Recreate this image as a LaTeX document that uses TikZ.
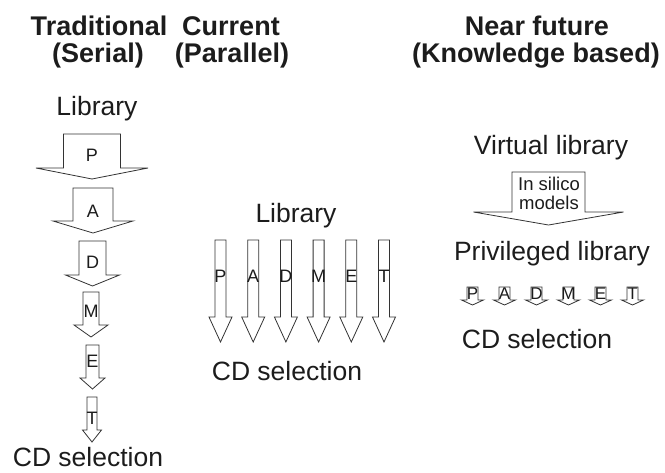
\documentclass[tikz,border=0pt]{standalone}
\usepackage{fontspec}
\setmainfont{Liberation Sans}
\definecolor{padInk}{HTML}{1C1C1C}
\definecolor{padLine}{HTML}{333333}
\tikzset{
  pad title/.style={font=\fontsize{27}{30}\selectfont\bfseries, text=padInk, anchor=base, inner sep=0pt},
  pad label/.style={font=\fontsize{26.5}{30}\selectfont, text=padInk, anchor=base, inner sep=0pt},
  pad note/.style={font=\fontsize{18.5}{20}\selectfont, text=padInk, anchor=base, inner sep=0pt},
  pad letter/.style={font=\fontsize{18}{20}\selectfont, text=padInk, inner sep=0pt},
  pad small letter/.style={font=\fontsize{17}{20}\selectfont, text=padInk, inner sep=0pt},
  pad arrow/.style={draw=padLine, line width=0.8pt, fill=white, line join=miter},
}
% block arrow pointing down: centre x, top, half shaft, wing y, half head, tip y
\newcommand{\padArrow}[6]{%
  \draw[pad arrow] (#1-#3,#2) -- (#1-#3,#4) -- (#1-#5,#4) -- (#1,#6)
    -- (#1+#5,#4) -- (#1+#3,#4) -- (#1+#3,#2) -- cycle;}

\begin{document}
\begin{tikzpicture}[x=1pt,y=-1pt]
  \useasboundingbox (0,0) rectangle (665,472);
  % column titles
  \node[pad title] (tradTop) at (99,35) {Traditional};
  \node[pad title] (tradSub) at (98,62) {(Serial)};
  \node[pad title] (curTop) at (231,35) {Current};
  \node[pad title] (curSub) at (232,62) {(Parallel)};
  \node[pad title] (nearTop) at (537,35) {Near future};
  \node[pad title] (nearSub) at (536,62) {(Knowledge based)};

  % serial: one filter after the other
  \node[pad label] (tradLib) at (97,115) {Library};
  \foreach \nm/\cx/\top/\hs/\wy/\hh/\tip/\ly in {P/92/134/28.5/168/56/179/155,
      A/93/188/20/221/40/233/211.5, D/92.5/241/13.5/275/27/286/262.5,
      M/91/292/8/325/17/337/311, E/92.5/345/6.5/378/12.5/389/361.5,
      T/92/397/5/430/9.5/442/418.5} {
    \padArrow{\cx}{\top}{\hs}{\wy}{\hh}{\tip}
    \node[pad letter] (trad\nm) at (\cx,\ly) {\nm};
  }
  \node[pad label] (tradCD) at (88,466) {CD selection};

  % parallel: all filters at once
  \node[pad label] (curLib) at (296,222) {Library};
  \foreach \nm [count=\i from 0] in {P,A,D,M,E,T} {
    \pgfmathsetmacro{\cx}{220.5+32.7*\i}
    \padArrow{\cx}{240}{5.5}{317}{11.5}{342}
    \node[pad letter] (cur\nm) at (\cx,276) {\nm};
  }
  \node[pad label] (curCD) at (287,380) {CD selection};

  % knowledge based
  \node[pad label] (nearVirt) at (551,154) {Virtual library};
  \padArrow{548.5}{172}{36.5}{212}{75}{225}
  \node[pad note] (silicoA) at (549,190) {In silico};
  \node[pad note] (silicoB) at (549,209) {models};
  \node[pad label] (nearPriv) at (552,260) {Privileged library};
  \foreach \nm [count=\i from 0] in {P,A,D,M,E,T} {
    \pgfmathsetmacro{\cx}{472.5+32*\i}
    \padArrow{\cx}{287}{5.5}{300}{11}{305}
    \node[pad small letter] (near\nm) at (\cx,294) {\nm};
  }
  \node[pad label] (nearCD) at (537,348) {CD selection};
\end{tikzpicture}
\end{document}
